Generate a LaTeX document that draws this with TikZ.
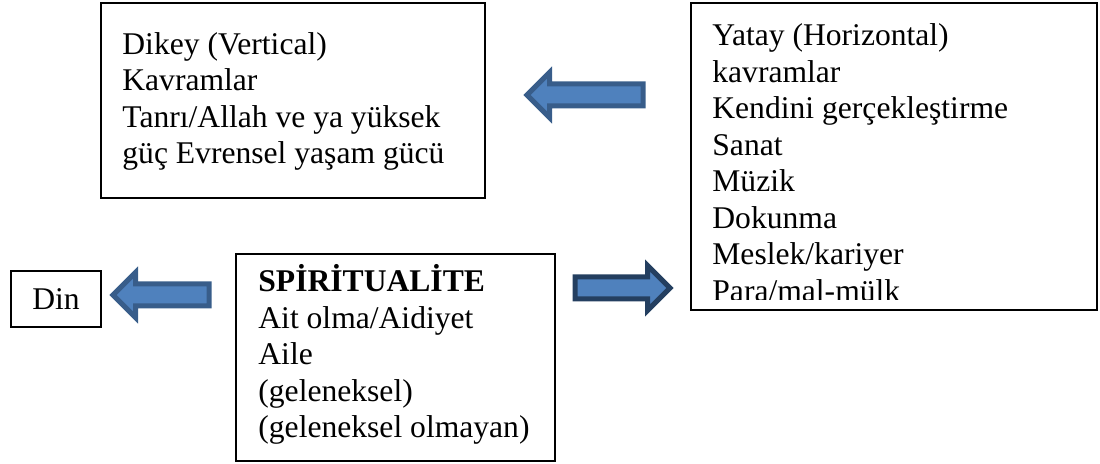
\documentclass[tikz,border=0pt]{standalone}
\usepackage{fontspec}
\setmainfont{Liberation Serif}
\usetikzlibrary{shapes.arrows}

\definecolor{arrfill}{HTML}{4F81BD}
\definecolor{arrline}{HTML}{385D8A}
\definecolor{arrdark}{HTML}{243F60}

\begin{document}
\begin{tikzpicture}[x=0.5pt, y=-0.5pt,
	box/.style={draw, line width=1pt, inner sep=0pt, font=\fontsize{15.8}{18.25}\selectfont},
	txt/.style={align=left, anchor=base west, inner sep=0pt, font=\fontsize{15.8}{18.25}\selectfont},
	blockarrow/.style={single arrow, fill=arrfill, draw=arrline, line width=2.5pt,
		inner xsep=0pt, inner ysep=4.25pt, single arrow head extend=5.75pt,
		single arrow tip angle=90}]
	\useasboundingbox (0,0) rectangle (1100,464);

	% boxes (text nodes sit on the baseline of their last line)
	\node[box, minimum width=192pt, minimum height=97.5pt] (vbox) at (293,100.5) {};
	\node[txt] (vtxt) at (122,164) {Dikey (Vertical)\\Kavramlar\\Tanrı/Allah ve ya yüksek\\güç Evrensel yaşam gücü};

	\node[box, minimum width=203pt, minimum height=153.5pt] (hbox) at (894,156.5) {};
	\begin{scope}
		\clip (691,3) rectangle (1097,299.5);
		\node[txt] (htxt) at (712,301.5) {Yatay (Horizontal)\\kavramlar\\Kendini gerçekleştirme\\Sanat\\Müzik\\Dokunma\\Meslek/kariyer\\Para/mal-mülk};
	\end{scope}

	\node[box, minimum width=159.5pt, minimum height=103.5pt] (sbox) at (395.5,357.5) {};
	\node[txt] (stxt) at (258,438) {\textbf{SPİRİTUALİTE}\\Ait olma/Aidiyet\\Aile\\(geleneksel)\\(geleneksel olmayan)};

	\node[box, minimum width=45pt, minimum height=28pt] (din) at (56,299) {Din};

	% block arrows
	\node[blockarrow, minimum height=58pt, shape border rotate=180] (arrV) at (590.5,95) {};
	\node[blockarrow, minimum height=48pt, shape border rotate=180] (arrD) at (166.5,295) {};
	\node[blockarrow, draw=arrdark, minimum height=47.5pt] (arrH) at (617,288) {};
\end{tikzpicture}
\end{document}
